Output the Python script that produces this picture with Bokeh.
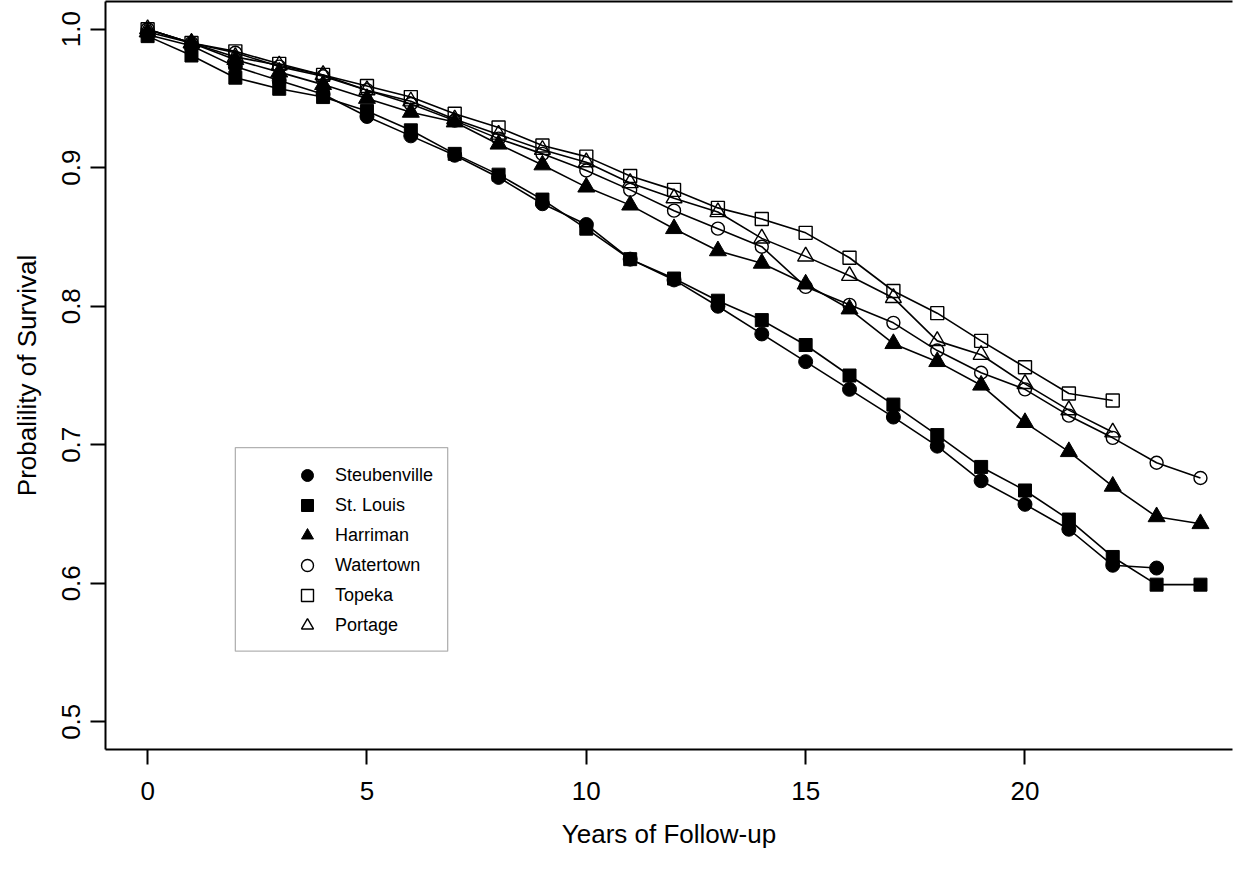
from bokeh.plotting import figure
from bokeh.models import Range1d, LinearAxis, FixedTicker, Legend, LegendItem, BoxAnnotation
from bokeh.embed import file_html
from bokeh.resources import INLINE

# ---------------- data ----------------
years = list(range(25))
x_ticks = [0, 5, 10, 15, 20]
y_ticks = [0.5, 0.6, 0.7, 0.8, 0.9, 1.0]
y_tick_labels = ["0.5", "0.6", "0.7", "0.8", "0.9", "1.0"]

steubenville = [0.996, 0.988, 0.973, 0.963, 0.953, 0.937, 0.923, 0.909, 0.893, 0.874,
                0.859, 0.834, 0.819, 0.800, 0.780, 0.760, 0.740, 0.720, 0.699, 0.674,
                0.657, 0.639, 0.613, 0.611]
st_louis = [0.995, 0.981, 0.965, 0.957, 0.951, 0.941, 0.927, 0.910, 0.895, 0.877,
            0.856, 0.834, 0.820, 0.804, 0.790, 0.772, 0.750, 0.729, 0.707, 0.684,
            0.667, 0.646, 0.619, 0.599, 0.599]
harriman = [0.998, 0.990, 0.978, 0.969, 0.960, 0.950, 0.940, 0.933, 0.917, 0.902,
            0.886, 0.873, 0.856, 0.840, 0.831, 0.816, 0.798, 0.773, 0.760, 0.743,
            0.716, 0.695, 0.670, 0.648, 0.643]
watertown = [1.000, 0.990, 0.983, 0.973, 0.966, 0.956, 0.946, 0.934, 0.921, 0.910,
             0.898, 0.884, 0.869, 0.856, 0.843, 0.814, 0.801, 0.788, 0.768, 0.752,
             0.740, 0.721, 0.705, 0.687, 0.676]
topeka = [1.000, 0.990, 0.984, 0.975, 0.967, 0.959, 0.951, 0.939, 0.929, 0.916,
          0.908, 0.894, 0.884, 0.871, 0.863, 0.853, 0.835, 0.811, 0.795, 0.775,
          0.756, 0.737, 0.732]
portage = [1.000, 0.990, 0.980, 0.974, 0.967, 0.956, 0.948, 0.935, 0.924, 0.913,
           0.904, 0.889, 0.878, 0.868, 0.849, 0.836, 0.822, 0.806, 0.775, 0.765,
           0.744, 0.725, 0.709]

series = [
    ("Steubenville", steubenville, "circle", True, 14),
    ("St. Louis", st_louis, "square", True, 13),
    ("Harriman", harriman, "triangle", True, 17),
    ("Watertown", watertown, "circle", False, 13),
    ("Topeka", topeka, "square", False, 13),
    ("Portage", portage, "triangle", False, 16),
]

FONT = "Liberation Sans"

p = figure(frame_width=1127, frame_height=748,
           x_range=Range1d(-0.96, 24.73), y_range=Range1d(0.48, 1.02),
           output_backend="svg", toolbar_location=None,
           x_axis_location=None, y_axis_location=None,
           min_border_left=105, min_border_right=1, min_border_top=1, min_border_bottom=112)
p.grid.visible = False
p.outline_line_color = None
p.background_fill_color = "white"

xaxis = LinearAxis(ticker=FixedTicker(ticks=x_ticks), axis_label="Years of Follow-up")
yaxis = LinearAxis(ticker=FixedTicker(ticks=y_ticks), axis_label="Probalility of Survival",
                   major_label_overrides={v: s for v, s in zip(y_ticks, y_tick_labels)})
for ax in (xaxis, yaxis):
    ax.axis_line_width = 2
    ax.axis_line_color = "black"
    ax.major_tick_out = 15
    ax.major_tick_in = 0
    ax.major_tick_line_width = 2
    ax.minor_tick_out = 0
    ax.minor_tick_in = 0
    ax.major_label_text_font = FONT
    ax.major_label_text_font_size = "26px"
    ax.major_label_text_color = "black"
    ax.axis_label_text_font = FONT
    ax.axis_label_text_font_size = "26px"
    ax.axis_label_text_font_style = "normal"
    ax.axis_label_text_color = "black"
xaxis.major_label_standoff = 17
xaxis.axis_label_standoff = 16
yaxis.major_label_orientation = "vertical"
yaxis.major_label_standoff = 10
yaxis.axis_label_standoff = 18
p.add_layout(xaxis, "below")
p.add_layout(yaxis, "left")

top = LinearAxis(ticker=FixedTicker(ticks=[]), major_label_text_font_size="0px",
                 major_tick_out=0, major_tick_in=0, minor_tick_out=0, minor_tick_in=0,
                 major_label_standoff=0, axis_line_width=2, axis_line_color="black")
p.add_layout(top, "above")

items = []
for name, vals, marker, filled, size in series:
    xs = years[:len(vals)]
    p.line(xs, vals, line_color="black", line_width=1.6)
    if filled:
        r = p.scatter(xs, vals, marker=marker, size=size, fill_color="black",
                      line_color="black", line_width=1)
    else:
        r = p.scatter(xs, vals, marker=marker, size=size, fill_color=None,
                      line_color="black", line_width=1.4)
    items.append(LegendItem(label=name, renderers=[r]))

box = BoxAnnotation(left=2.0, right=6.84, bottom=0.551, top=0.698,
                    fill_alpha=0, line_color="black", line_width=1.3)
p.add_layout(box)

legend = Legend(items=items, location=(187, 109), border_line_color=None,
                background_fill_alpha=0, padding=0, spacing=0, margin=0,
                glyph_width=30, glyph_height=30, label_height=30, label_standoff=13,
                label_text_font=FONT, label_text_font_size="18px", label_text_color="black")
p.add_layout(legend)

open("out.html", "w").write(file_html(p, INLINE))
